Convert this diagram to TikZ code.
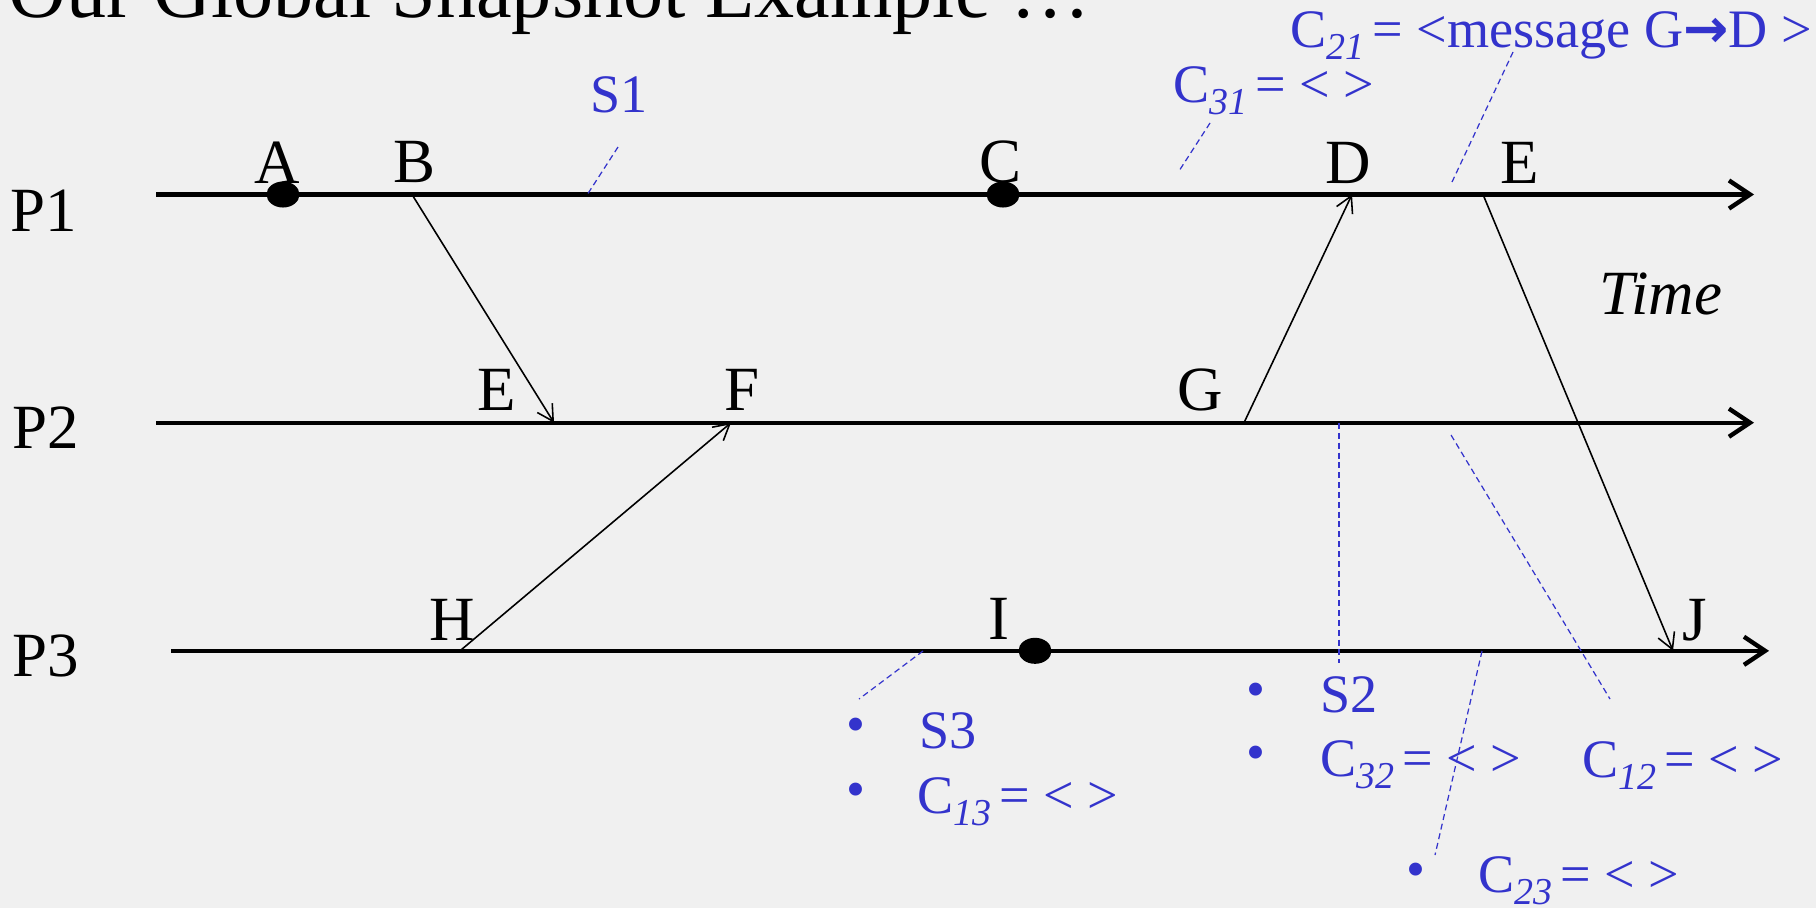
\documentclass[tikz,border=0pt]{standalone}
\usepackage{fontspec}
\setmainfont{Liberation Serif}
\newfontfamily\arrowfont{DejaVu Sans}
\usepackage{xcolor}
\usepackage{tikz}
\usetikzlibrary{arrows.meta, shapes.geometric}

\definecolor{snapblue}{HTML}{3333CC}
\definecolor{slidebg}{HTML}{F0F0F0}
\newcommand{\cname}[1]{C\raisebox{-3.6pt}{\fontsize{10.8}{12}\selectfont\itshape #1}\hspace{2.2pt}}

\begin{document}
\begin{tikzpicture}[x=0.01cm, y=-0.01cm, >=stealth,
    axis/.style={line width=1.25pt, -{Straight Barb[length=6pt, width=8pt]}},
    msg/.style={line width=0.45pt, -{Straight Barb[length=4.5pt, width=5pt]}},
    cut/.style={snapblue, line width=0.35pt, dash pattern=on 1.7pt off 1.1pt},
    lbl/.style={font=\fontsize{17.9}{20}\selectfont, inner sep=0pt, anchor=base},
    note/.style={text=snapblue, font=\fontsize{15.4}{17}\selectfont, inner sep=0pt, anchor=base west},
    bul/.style={text=snapblue, font=\fontsize{15.4}{17}\selectfont, inner sep=0pt},
    dotmark/.style={ellipse, fill=black, inner sep=0pt, minimum width=0.33cm, minimum height=0.26cm}]
    % Nền và khung
    \clip (0,0) rectangle (1816,908);
    \fill[slidebg] (0,0) rectangle (1816,908);
    \node[font=\fontsize{22.8}{26}\selectfont, inner sep=0pt, anchor=base west] (title) at (8,17) {Our Global Snapshot Example …};

    % Các tiến trình
    \coordinate (p1s) at (156,194.5); \coordinate (p1e) at (1754,194.5);
    \coordinate (p2s) at (156,422.7); \coordinate (p2e) at (1754,422.7);
    \coordinate (p3s) at (171,650.8); \coordinate (p3e) at (1769,650.8);
    \draw[axis] (p1s) -- (p1e);
    \draw[axis] (p2s) -- (p2e);
    \draw[axis] (p3s) -- (p3e);
    \node[lbl] (P1) at (44,231) {P1};
    \node[lbl] (P2) at (46,448) {P2};
    \node[lbl] (P3) at (46,676) {P3};
    \node[lbl, font=\fontsize{17.9}{20}\selectfont\itshape] (time) at (1661,314) {Time};

    % Các sự kiện
    \coordinate (a) at (283,194.5);
    \coordinate (b) at (412,194.5);
    \coordinate (c) at (1003,194.5);
    \coordinate (d) at (1352,194.5);
    \coordinate (e1) at (1483,194.5);
    \coordinate (e2) at (554,422.7);
    \coordinate (f) at (731,422.7);
    \coordinate (g) at (1244,422.7);
    \coordinate (h) at (460,650.8);
    \coordinate (i) at (1035,650.8);
    \coordinate (j) at (1673,650.8);
    \node[lbl] (lA) at (277,183) {A};
    \node[lbl] (lB) at (414,182) {B};
    \node[lbl] (lC) at (1000,182) {C};
    \node[lbl] (lD) at (1348,183) {D};
    \node[lbl] (lE1) at (1520,183) {E};
    \node[lbl] (lE2) at (497,410) {E};
    \node[lbl] (lF) at (742,410) {F};
    \node[lbl] (lG) at (1200,410) {G};
    \node[lbl] (lH) at (452,640) {H};
    \node[lbl] (lI) at (999,639) {I};
    \node[lbl] (lJ) at (1695,640) {J};

    % Các thông điệp
    \draw[msg] (b) -- (e2);
    \draw[msg] (h) -- (f);
    \draw[msg] (g) -- (d);
    \draw[msg] (e1) -- (j);
    \node[dotmark] (dA) at (a) {};
    \node[dotmark] (dC) at (c) {};
    \node[dotmark] (dI) at (i) {};

    % Ảnh chụp trạng thái và kênh
    \coordinate (s1a) at (618,147);  \coordinate (s1b) at (587,195);
    \coordinate (c31a) at (1210,123); \coordinate (c31b) at (1179,171);
    \coordinate (c21a) at (1513,52);  \coordinate (c21b) at (1452,182);
    \coordinate (s3a) at (923,651);  \coordinate (s3b) at (859,699);
    \coordinate (s2a) at (1339,423); \coordinate (s2b) at (1339,663);
    \coordinate (c12a) at (1451,435); \coordinate (c12b) at (1610,699);
    \coordinate (c23a) at (1482,651); \coordinate (c23b) at (1435,855);
    \draw[cut] (s1a) -- (s1b);
    \draw[cut] (c31a) -- (c31b);
    \draw[cut] (c21a) -- (c21b);
    \draw[cut] (s3a) -- (s3b);
    \draw[cut] (s2a) -- (s2b);
    \draw[cut] (c12a) -- (c12b);
    \draw[cut] (c23a) -- (c23b);

    \node[note] (nS1) at (590,112) {S1};
    \node[note] (nC31) at (1173,102) {\cname{31}= < >};
    \node[note] (nC21) at (1290,47) {\cname{21}= <message G{\arrowfont\bfseries →}D >};
    \node[bul] (b1) at (856,730) {•};
    \node[note] (nS3) at (919,748) {S3};
    \node[bul] (b2) at (856,795) {•};
    \node[note] (nC13) at (917,813) {\cname{13}= < >};
    \node[bul] (b3) at (1256,695) {•};
    \node[note] (nS2) at (1320,712) {S2};
    \node[bul] (b4) at (1256,758) {•};
    \node[note] (nC32) at (1320,776) {\cname{32}= < >};
    \node[note] (nC12) at (1582,777) {\cname{12}= < >};
    \node[bul] (b5) at (1416,875) {•};
    \node[note] (nC23) at (1478,892) {\cname{23}= < >};
\end{tikzpicture}
\end{document}
